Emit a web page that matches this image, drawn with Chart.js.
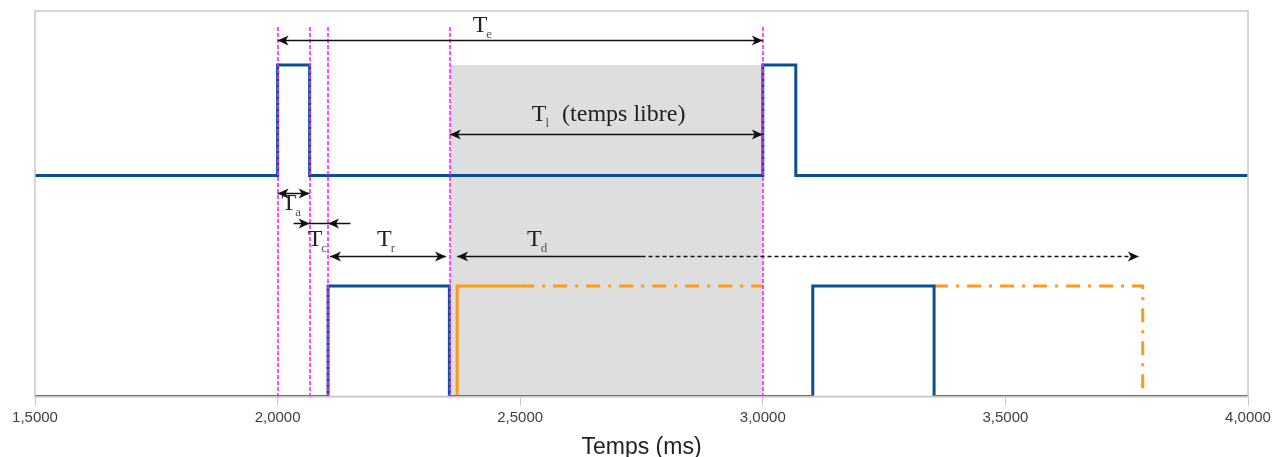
<!DOCTYPE html>
<html>
<head>
<meta charset="utf-8">
<title>Temps de cycle</title>
<script src="https://cdn.jsdelivr.net/npm/chart.js@4.4.0/dist/chart.umd.min.js"></script>
<style>
  html, body { margin: 0; padding: 0; background: #fff; }
  #wrap { width: 1287px; height: 457px; }
</style>
</head>
<body>
<div id="wrap"><canvas id="chart"></canvas></div>
<script>
// axis
const xMin = 1.5;
const xMax = 4.0;
const xStep = 0.5;

// switching instants (ms)
const topEdges = [2.0, 2.066, 3.0, 3.068];       // upper signal: low 2, high 3
const bottomEdges = [2.104, 2.354, 3.103, 3.353]; // lower signal: low 0, high 1
const orangeRise = 2.37;
const orangeSolidEnd = 2.50;
const orangeFall = 3.783;
const freeStart = 2.355;
const freeEnd = 3.0;

// vertical guides
const guideTimes = [2.0, 2.066, 2.104, 2.355, 3.0];

// square wave from a list of edges
function steps(edges, low, high) {
  const pts = [{x: xMin, y: low}];
  let level = low;
  edges.forEach(t => {
    pts.push({x: t, y: level});
    level = level === low ? high : low;
    pts.push({x: t, y: level});
  });
  pts.push({x: xMax, y: level});
  return pts;
}

// dimension arrows, in data units
// heads: 'out' = pointing away from centre, 'in' = pointing toward the span
const dims = [
  {from: 2.0, to: 3.0, y: 3.23, heads: 'out'},
  {from: freeStart, to: freeEnd, y: 2.375, heads: 'out'},
  {from: 2.0, to: 2.066, y: 1.84, heads: 'out'},
  {from: 2.066, to: 2.104, y: 1.57, heads: 'in', ext: [2.033, 2.150]},
  {from: 2.108, to: 2.347, y: 1.27, heads: 'out'},
  {from: orangeRise, to: 3.775, y: 1.27, heads: 'out', dashFrom: 2.75}
];

const labels = [
  {x: 2.402, y: 3.30, main: 'T', sub: 'e'},
  {x: 2.524, y: 2.49, main: 'T', sub: 'l', tail: '  (temps libre)'},
  {x: 2.008, y: 1.685, main: 'T', sub: 'a'},
  {x: 2.062, y: 1.36, main: 'T', sub: 'c'},
  {x: 2.205, y: 1.36, main: 'T', sub: 'r'},
  {x: 2.514, y: 1.36, main: 'T', sub: 'd'}
];

function head(ctx, x, y, dir) {
  ctx.beginPath();
  ctx.moveTo(x, y);
  ctx.lineTo(x - dir * 11, y - 5);
  ctx.lineTo(x - dir * 8, y);
  ctx.lineTo(x - dir * 11, y + 5);
  ctx.closePath();
  ctx.fill();
}

const overlay = {
  id: 'overlay',
  afterDatasetsDraw(chart) {
    const ctx = chart.ctx;
    const xs = chart.scales.x, ys = chart.scales.y;
    const a = chart.chartArea;
    ctx.save();

    // frame
    ctx.strokeStyle = '#c8c8c8';
    ctx.lineWidth = 1.5;
    ctx.strokeRect(a.left, a.top, a.right - a.left, a.bottom - a.top);

    // magenta guides
    ctx.strokeStyle = '#ff22ff';
    ctx.lineWidth = 1.6;
    ctx.setLineDash([4, 2]);
    guideTimes.forEach(t => {
      const px = Math.round(xs.getPixelForValue(t));
      ctx.beginPath();
      ctx.moveTo(px, ys.getPixelForValue(3.345));
      ctx.lineTo(px, a.bottom);
      ctx.stroke();
    });
    ctx.setLineDash([]);

    // arrows
    ctx.strokeStyle = '#111';
    ctx.fillStyle = '#111';
    ctx.lineWidth = 1.5;
    dims.forEach(d => {
      const py = Math.round(ys.getPixelForValue(d.y)) + 0.5;
      const x1 = xs.getPixelForValue(d.from), x2 = xs.getPixelForValue(d.to);
      if (d.heads === 'in') {
        ctx.beginPath();
        ctx.moveTo(xs.getPixelForValue(d.ext[0]), py);
        ctx.lineTo(xs.getPixelForValue(d.ext[1]), py);
        ctx.stroke();
        head(ctx, x1, py, 1);
        head(ctx, x2, py, -1);
      } else {
        const xd = d.dashFrom ? xs.getPixelForValue(d.dashFrom) : x2;
        ctx.beginPath();
        ctx.moveTo(x1, py);
        ctx.lineTo(xd, py);
        ctx.stroke();
        if (d.dashFrom) {
          ctx.setLineDash([4, 3]);
          ctx.beginPath();
          ctx.moveTo(xd, py);
          ctx.lineTo(x2, py);
          ctx.stroke();
          ctx.setLineDash([]);
        }
        head(ctx, x1, py, -1);
        head(ctx, x2, py, 1);
      }
    });

    // labels
    ctx.textBaseline = 'alphabetic';
    ctx.textAlign = 'left';
    labels.forEach(l => {
      const px = xs.getPixelForValue(l.x), py = ys.getPixelForValue(l.y);
      ctx.font = '24px "Liberation Serif", serif';
      ctx.fillStyle = '#222';
      ctx.fillText(l.main, px, py);
      const w = ctx.measureText(l.main).width;
      ctx.font = '13px "Liberation Serif", serif';
      ctx.fillStyle = '#555';
      ctx.fillText(l.sub, px + w - 1, py + 6);
      if (l.tail) {
        const ws = ctx.measureText(l.sub).width;
        ctx.font = '24px "Liberation Serif", serif';
        ctx.fillStyle = '#222';
        ctx.fillText(l.tail, px + w + ws, py);
      }
    });
    ctx.restore();
  }
};

new Chart(document.getElementById('chart'), {
  type: 'line',
  data: {
    datasets: [
      {
        data: steps(topEdges, 2, 3),
        borderColor: '#0b4f93', borderWidth: 3, order: 0
      },
      {
        data: steps(bottomEdges, 0, 1),
        borderColor: '#0b4f93', borderWidth: 3, order: 0
      },
      {
        data: [{x: orangeRise, y: 0}, {x: orangeRise, y: 1}, {x: orangeSolidEnd, y: 1}],
        borderColor: '#ff9a1a', borderWidth: 3, order: 1
      },
      {
        data: [{x: orangeSolidEnd, y: 1}, {x: freeEnd, y: 1}, {x: 3.1, y: null},
               {x: bottomEdges[3], y: 1}, {x: orangeFall, y: 1}, {x: orangeFall, y: 0.07}],
        borderColor: '#ff9a1a', borderWidth: 3, borderDash: [14, 8, 3, 8], order: 1
      },
      {
        // free time window
        data: [{x: freeStart, y: 3}, {x: freeEnd, y: 3}],
        borderWidth: 0, borderColor: 'rgba(0,0,0,0)',
        backgroundColor: '#dedede', fill: 'origin', order: 2
      }
    ]
  },
  options: {
    responsive: true,
    maintainAspectRatio: false,
    animation: false,
    spanGaps: false,
    elements: { point: { radius: 0 }, line: { tension: 0, borderJoinStyle: 'miter' } },
    layout: { padding: { left: 35, right: 39, top: 11, bottom: 0 } },
    plugins: { legend: { display: false }, tooltip: { enabled: false } },
    scales: {
      x: {
        type: 'linear', min: xMin, max: xMax,
        border: { color: '#c8c8c8', width: 1.5 },
        grid: { drawOnChartArea: false, drawTicks: true, tickLength: 9, color: '#c8c8c8' },
        ticks: {
          stepSize: xStep, maxRotation: 0, padding: 3,
          color: '#404040', font: { family: '"Liberation Sans", Arial, sans-serif', size: 15 },
          callback: v => v.toFixed(4).replace('.', ',')
        },
        title: {
          display: true, text: 'Temps (ms)', color: '#222',
          font: { family: '"Liberation Sans", Arial, sans-serif', size: 23 },
          padding: { top: 4, bottom: -4 }
        }
      },
      y: { display: false, min: 0, max: 3.49 }
    }
  },
  plugins: [overlay]
});
</script>
</body>
</html>
